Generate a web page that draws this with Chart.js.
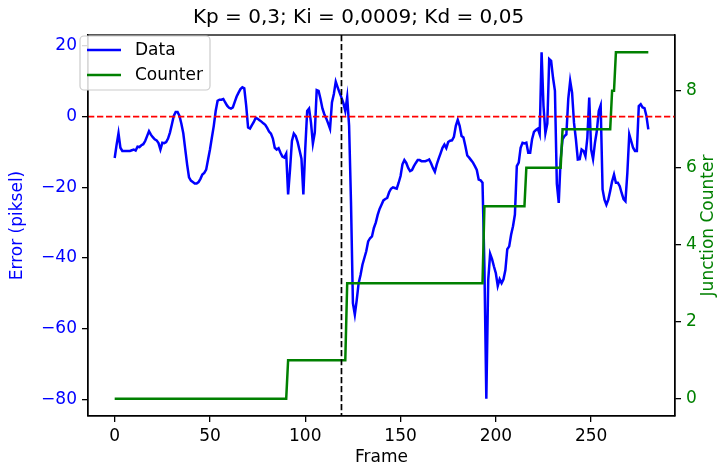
<!DOCTYPE html>
<html>
<head>
<meta charset="utf-8">
<script src="https://cdn.jsdelivr.net/npm/chart.js@4.4.1/dist/chart.umd.min.js"></script>
<style>
  html, body { margin: 0; padding: 0; background: #fff; }
  canvas { display: block; }
</style>
</head>
<body>
<canvas id="pidChart" width="717" height="468"></canvas>
<script>
// error per frame (piksel), frames 0..280
let errorValues = [
  -11.7, -8.0, -4.7, -8.8, -9.7, -9.7, -9.7, -9.7, -9.7, -9.5,
  -9.3, -9.6, -8.5, -8.6, -8.1, -7.8, -6.9, -5.5, -4.1, -5.1,
  -5.8, -6.4, -6.7, -7.5, -9.3, -7.4, -7.5, -7.2, -6.2, -4.5,
  -2.2, 0.2, 1.3, 1.3, 0.2, -2.0, -4.7, -9.1, -13.5, -17.2,
  -18.1, -18.5, -18.9, -18.9, -18.5, -17.6, -16.4, -15.9, -15.0, -12.1,
  -9.3, -5.9, -2.6, 1.6, 4.5, 4.8, 4.8, 5.0, 4.0, 3.1,
  2.5, 2.3, 2.6, 4.2, 5.7, 6.8, 7.8, 8.3, 8.0, 3.1,
  -3.1, -3.4, -2.4, -1.5, -0.3, -0.6, -1.0, -1.4, -1.9, -2.3,
  -3.2, -4.2, -4.8, -6.2, -8.8, -9.3, -8.9, -10.2, -11.3, -11.6,
  -10.5, -22.0, -15.0, -6.9, -4.8, -5.5, -7.2, -9.5, -11.9, -22.0,
  -9.0, 1.6, 2.3, -1.7, -7.6, -4.5, 7.5, 7.3, 5.0, 2.3,
  0.7, -0.5, -1.9, -3.4, 4.0, 6.4, 9.9, 8.3, 6.8, 5.4,
  3.8, 1.6, 5.5, -2.6, -24.4, -52.8, -56.0, -51.9, -47.1, -44.8,
  -41.9, -40.0, -38.1, -35.3, -34.4, -33.9, -31.5, -30.0, -27.8, -26.1,
  -24.9, -23.7, -23.3, -23.0, -21.4, -20.4, -20.0, -20.2, -20.4, -18.7,
  -16.8, -13.5, -12.3, -13.1, -14.5, -15.4, -15.1, -14.0, -13.1, -12.3,
  -12.3, -12.6, -12.6, -12.6, -12.4, -12.1, -13.2, -14.5, -15.6, -13.5,
  -11.9, -10.4, -8.8, -7.9, -8.9, -7.2, -6.8, -6.7, -5.7, -2.6,
  -0.9, -2.6, -5.5, -5.9, -8.3, -11.0, -11.6, -12.3, -13.0, -14.0,
  -15.1, -17.8, -18.0, -18.7, -42.4, -79.8, -46.2, -38.8, -40.3, -42.4,
  -44.3, -47.9, -46.0, -47.1, -46.0, -43.4, -37.5, -36.7, -33.4, -31.0,
  -27.7, -14.0, -13.0, -8.8, -7.4, -7.6, -7.4, -10.2, -10.2, -6.4,
  -4.3, -3.8, -3.4, -5.0, 18.2, 3.0, -4.7, -2.0, 16.3, 15.8,
  11.0, 7.3, -19.0, -24.4, -12.0, -6.4, -5.5, -5.0, 5.0, 10.1,
  6.8, -1.7, -6.4, -12.1, -12.0, -9.3, -9.7, -11.2, -6.0, 5.4,
  -9.3, -12.0, -7.4, -4.0, 1.6, 3.2, -20.6, -23.5, -24.9, -23.5,
  -21.0, -18.3, -16.4, -18.7, -18.7, -19.7, -21.6, -23.3, -23.9, -15.9,
  -5.0, -6.9, -8.8, -9.7, -9.7, 3.0, 3.5, 2.6, 2.4, 0.2,
  -3.6
];
let frames = errorValues.map((v, i) => i);

// junction counter: frames where the step starts/ends
let counterFrames = [0, 90, 91, 121, 122, 193, 194, 215, 216, 234, 235, 260, 261, 262, 263, 280];
let counterValues = [0, 0, 1, 1, 3, 3, 5, 5, 6, 6, 7, 7, 8, 8, 9, 9];

let xTicks = [0, 50, 100, 150, 200, 250];
let errorTicks = [-80, -60, -40, -20, 0, 20];
let counterTicks = [0, 2, 4, 6, 8];

let zeroLine = 0;
let markFrame = 119;

let titleText = 'Kp = 0,3; Ki = 0,0009; Kd = 0,05';

Chart.defaults.font.family = "'DejaVu Sans', sans-serif";

function minusSign(v) {
  return v < 0 ? '\u2212' + Math.abs(v) : String(v);
}

// spines, reference lines, right label, legend
const extras = {
  id: 'extras',
  afterDatasetsDraw(chart) {
    const {ctx, chartArea: a, scales} = chart;
    ctx.save();
    ctx.lineWidth = 1.7;
    ctx.setLineDash([6.3, 2.7]);
    let y0 = scales.y.getPixelForValue(zeroLine);
    ctx.strokeStyle = '#ff0000';
    ctx.beginPath();
    ctx.moveTo(a.left, y0);
    ctx.lineTo(a.right, y0);
    ctx.stroke();
    let x0 = scales.x.getPixelForValue(markFrame);
    ctx.strokeStyle = '#000000';
    ctx.beginPath();
    ctx.moveTo(x0, a.top);
    ctx.lineTo(x0, a.bottom);
    ctx.stroke();
    ctx.restore();
  },
  afterDraw(chart) {
    const {ctx, chartArea: a} = chart;
    ctx.save();
    ctx.strokeStyle = '#000';
    ctx.lineWidth = 1.3;
    ctx.strokeRect(a.left, a.top, a.right - a.left, a.bottom - a.top);

    // right axis label, reads bottom to top like matplotlib
    ctx.translate(709, (a.top + a.bottom) / 2);
    ctx.rotate(-Math.PI / 2);
    ctx.fillStyle = '#008000';
    ctx.font = "17px 'DejaVu Sans'";
    ctx.textAlign = 'center';
    ctx.textBaseline = 'middle';
    ctx.fillText('Junction Counter', 0, 0);
    ctx.restore();

    // legend box
    ctx.save();
    let bx = a.left - 8, by = a.top + 1, bw = 130, bh = 54;
    ctx.beginPath();
    ctx.roundRect(bx, by, bw, bh, 4);
    ctx.fillStyle = 'rgba(255,255,255,0.85)';
    ctx.fill();
    ctx.strokeStyle = '#cccccc';
    ctx.lineWidth = 1.2;
    ctx.stroke();
    let items = [['Data', '#0000ff'], ['Counter', '#008000']];
    ctx.font = "17px 'DejaVu Sans'";
    ctx.textBaseline = 'middle';
    items.forEach((it, i) => {
      let ly = by + 14 + i * 25;
      ctx.strokeStyle = it[1];
      ctx.lineWidth = 2.5;
      ctx.beginPath();
      ctx.moveTo(bx + 7, ly);
      ctx.lineTo(bx + 41, ly);
      ctx.stroke();
      ctx.fillStyle = '#000';
      ctx.fillText(it[0], bx + 55, ly + 1);
    });
    ctx.restore();
  }
};

let ctx = document.getElementById('pidChart').getContext('2d');
let pidChart = new Chart(ctx, {
  type: 'line',
  data: {
    datasets: [{
      label: 'Data',
      data: frames.map((f, i) => ({x: f, y: errorValues[i]})),
      borderColor: '#0000ff',
      borderWidth: 2.5,
      pointRadius: 0,
      tension: 0,
      yAxisID: 'y',
      order: 1
    }, {
      label: 'Counter',
      data: counterFrames.map((f, i) => ({x: f, y: counterValues[i]})),
      borderColor: '#008000',
      borderWidth: 2.5,
      pointRadius: 0,
      tension: 0,
      yAxisID: 'y1',
      order: 0
    }]
  },
  options: {
    responsive: false,
    animation: false,
    layout: { padding: 0 },
    plugins: {
      legend: { display: false },
      tooltip: { enabled: false },
      title: {
        display: true,
        text: titleText,
        color: '#000',
        font: { size: 20, weight: 'normal' },
        padding: { top: 6, bottom: 5 }
      }
    },
    scales: {
      x: {
        type: 'linear',
        min: -14,
        max: 294,
        afterBuildTicks: s => { s.ticks = xTicks.map(v => ({value: v})); },
        afterFit: s => { s.height = 52; },
        grid: { drawOnChartArea: false, drawTicks: true, tickLength: 6, color: '#000', lineWidth: 1.3 },
        border: { display: true, color: '#000', width: 1.3 },
        ticks: { color: '#000', font: { size: 17 }, padding: 4, maxRotation: 0 },
        title: { display: true, text: 'Frame', color: '#000', font: { size: 17 }, padding: { top: 0, bottom: 0 } }
      },
      y: {
        position: 'left',
        min: -84.7,
        max: 23.1,
        afterBuildTicks: s => { s.ticks = errorTicks.map(v => ({value: v})); },
        afterFit: s => { s.width = 88; },
        grid: { drawOnChartArea: false, drawTicks: true, tickLength: 6, color: '#000', lineWidth: 1.3 },
        border: { display: true, color: '#000', width: 1.3 },
        ticks: { color: '#0000ff', font: { size: 17 }, padding: 5, callback: minusSign },
        title: { display: true, text: 'Error (piksel)', color: '#0000ff', font: { size: 17 }, padding: { top: 7, bottom: 0 } }
      },
      y1: {
        position: 'right',
        min: -0.45,
        max: 9.45,
        afterBuildTicks: s => { s.ticks = counterTicks.map(v => ({value: v})); },
        afterFit: s => { s.width = 42; },
        grid: { drawOnChartArea: false, drawTicks: true, tickLength: 6, color: '#000', lineWidth: 1.3 },
        border: { display: true, color: '#000', width: 1.3 },
        ticks: { color: '#008000', font: { size: 17 }, padding: 5 }
      }
    }
  },
  plugins: [extras]
});
</script>
</body>
</html>
